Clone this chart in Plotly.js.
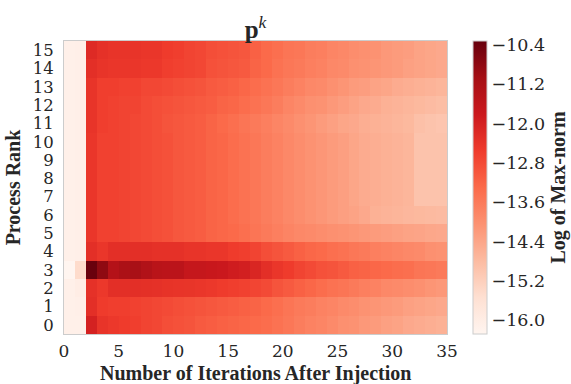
<!DOCTYPE html>
<html>
<head>
<meta charset="utf-8">
<script src="https://cdn.plot.ly/plotly-3.0.1.min.js"></script>
<style>html,body{margin:0;padding:0;background:#fff;}#chart{width:571px;height:384px;}</style>
</head>
<body>
<div id="chart"></div>
<script>
// Iteration bin edges (cells span [i, i+1])
const iterEdges = [0,1,2,3,4,5,6,7,8,9,10,11,12,13,14,15,16,17,18,19,20,21,22,23,24,25,26,27,28,29,30,31,32,33,34,35];
const ranks = [0,1,2,3,4,5,6,7,8,9,10,11,12,13,14,15];

// Log of max-norm per process rank, iterations 0..34
const rank0  = [-16.10,-16.10,-12.00,-12.40,-12.50,-12.55,-12.60,-12.70,-12.75,-12.85,-12.90,-12.95,-13.05,-13.10,-13.15,-13.20,-13.25,-13.30,-13.35,-13.45,-13.55,-13.65,-13.75,-13.80,-13.90,-14.00,-14.05,-14.15,-14.20,-14.30,-14.35,-14.45,-14.50,-14.55,-14.60];
const rank1  = [-16.10,-16.08,-12.30,-12.55,-12.60,-12.60,-12.65,-12.70,-12.75,-12.80,-12.85,-12.90,-12.95,-13.00,-13.05,-13.10,-13.15,-13.20,-13.30,-13.40,-13.50,-13.60,-13.65,-13.75,-13.80,-13.90,-13.95,-14.05,-14.10,-14.15,-14.20,-14.30,-14.35,-14.40,-14.45];
const rank2  = [-16.10,-16.00,-12.35,-12.50,-12.30,-12.30,-12.30,-12.32,-12.35,-12.38,-12.40,-12.42,-12.45,-12.50,-12.55,-12.60,-12.65,-12.72,-12.80,-12.95,-13.05,-13.15,-13.25,-13.35,-13.45,-13.50,-13.60,-13.70,-13.75,-13.85,-13.90,-13.95,-14.00,-14.10,-14.15];
const rank3  = [-16.28,-15.45,-10.35,-10.80,-11.35,-11.20,-11.15,-11.30,-11.45,-11.50,-11.50,-11.70,-11.70,-11.75,-11.80,-11.90,-11.95,-12.10,-12.30,-12.45,-12.55,-12.70,-12.80,-12.90,-12.95,-13.05,-13.15,-13.20,-13.25,-13.30,-13.35,-13.40,-13.50,-13.55,-13.60];
const rank4  = [-16.10,-16.08,-12.30,-12.45,-12.30,-12.30,-12.30,-12.30,-12.35,-12.35,-12.35,-12.40,-12.40,-12.45,-12.45,-12.55,-12.60,-12.70,-12.85,-12.95,-13.05,-13.15,-13.25,-13.30,-13.40,-13.45,-13.55,-13.60,-13.70,-13.75,-13.80,-13.85,-13.90,-14.00,-14.05];
const rank5  = [-16.10,-16.08,-12.45,-12.65,-12.65,-12.70,-12.75,-12.80,-12.85,-12.90,-13.00,-13.05,-13.10,-13.20,-13.25,-13.30,-13.40,-13.50,-13.60,-13.70,-13.78,-13.85,-13.90,-13.95,-14.00,-14.05,-14.10,-14.15,-14.20,-14.25,-14.30,-14.35,-14.38,-14.42,-14.45];
const rank6  = [-16.10,-16.08,-12.45,-12.65,-12.65,-12.70,-12.75,-12.80,-12.85,-12.90,-13.00,-13.05,-13.10,-13.20,-13.25,-13.35,-13.45,-13.55,-13.65,-13.75,-13.85,-13.95,-14.05,-14.12,-14.20,-14.28,-14.35,-14.45,-14.60,-14.65,-14.68,-14.72,-14.75,-14.78,-14.80];
const rank7  = [-16.10,-16.08,-12.45,-12.65,-12.65,-12.70,-12.75,-12.80,-12.85,-12.90,-13.00,-13.05,-13.10,-13.20,-13.25,-13.35,-13.45,-13.55,-13.65,-13.75,-13.85,-13.95,-14.05,-14.12,-14.20,-14.28,-14.40,-14.50,-14.55,-14.60,-14.65,-14.70,-14.95,-14.95,-14.95];
const rank8  = [-16.10,-16.08,-12.45,-12.65,-12.65,-12.70,-12.75,-12.80,-12.85,-12.90,-13.00,-13.05,-13.10,-13.20,-13.25,-13.35,-13.45,-13.55,-13.65,-13.75,-13.85,-13.95,-14.05,-14.12,-14.20,-14.28,-14.40,-14.50,-14.55,-14.60,-14.65,-14.70,-14.95,-14.95,-14.95];
const rank9  = [-16.10,-16.08,-12.45,-12.65,-12.65,-12.70,-12.75,-12.80,-12.85,-12.90,-13.00,-13.05,-13.10,-13.20,-13.25,-13.35,-13.45,-13.55,-13.65,-13.75,-13.85,-13.95,-14.05,-14.12,-14.20,-14.28,-14.40,-14.50,-14.55,-14.60,-14.65,-14.70,-14.95,-14.95,-14.95];
const rank10 = [-16.10,-16.08,-12.45,-12.65,-12.65,-12.70,-12.75,-12.80,-12.85,-12.90,-13.00,-13.05,-13.10,-13.20,-13.25,-13.35,-13.45,-13.55,-13.65,-13.75,-13.85,-13.95,-14.05,-14.12,-14.20,-14.28,-14.40,-14.50,-14.55,-14.60,-14.65,-14.70,-14.95,-14.95,-14.95];
const rank11 = [-16.10,-16.08,-12.40,-12.60,-12.65,-12.70,-12.75,-12.80,-12.85,-12.95,-13.00,-13.05,-13.10,-13.20,-13.30,-13.40,-13.50,-13.60,-13.70,-13.80,-13.90,-14.00,-14.10,-14.20,-14.30,-14.40,-14.45,-14.55,-14.60,-14.65,-14.70,-14.75,-14.90,-14.95,-15.00];
const rank12 = [-16.10,-16.08,-12.40,-12.60,-12.65,-12.70,-12.70,-12.80,-12.85,-12.90,-12.95,-13.00,-13.05,-13.10,-13.20,-13.25,-13.35,-13.45,-13.55,-13.65,-13.80,-13.90,-14.00,-14.05,-14.15,-14.25,-14.35,-14.45,-14.50,-14.60,-14.65,-14.70,-14.75,-14.80,-14.85];
const rank13 = [-16.10,-16.08,-12.40,-12.60,-12.60,-12.65,-12.65,-12.75,-12.75,-12.80,-12.85,-12.90,-12.95,-13.05,-13.10,-13.15,-13.25,-13.35,-13.45,-13.55,-13.65,-13.75,-13.85,-13.90,-14.00,-14.10,-14.20,-14.25,-14.35,-14.40,-14.50,-14.55,-14.60,-14.65,-14.70];
const rank14 = [-16.10,-16.08,-12.30,-12.40,-12.45,-12.45,-12.45,-12.50,-12.50,-12.60,-12.65,-12.70,-12.75,-12.90,-12.95,-13.00,-13.05,-13.20,-13.30,-13.45,-13.55,-13.60,-13.70,-13.75,-13.85,-13.90,-14.00,-14.05,-14.10,-14.15,-14.20,-14.30,-14.35,-14.40,-14.45];
const rank15 = [-16.10,-16.08,-12.20,-12.35,-12.40,-12.40,-12.40,-12.45,-12.45,-12.55,-12.60,-12.70,-12.75,-12.85,-12.90,-12.95,-13.00,-13.15,-13.30,-13.40,-13.50,-13.55,-13.65,-13.70,-13.80,-13.85,-13.95,-14.00,-14.05,-14.15,-14.20,-14.25,-14.35,-14.40,-14.45];

const cbarTicks = [-16.0,-15.2,-14.4,-13.6,-12.8,-12.0,-11.2,-10.4];
const xTicks = [0,5,10,15,20,25,30,35];

const z = [rank0,rank1,rank2,rank3,rank4,rank5,rank6,rank7,rank8,rank9,rank10,rank11,rank12,rank13,rank14,rank15];

// matplotlib "Reds"
const reds = [
  [0.0,'#fff5f0'],[0.125,'#fee0d2'],[0.25,'#fcbba1'],[0.375,'#fc9272'],
  [0.5,'#fb6a4a'],[0.625,'#ef3b2c'],[0.75,'#cb181d'],[0.875,'#a50f15'],[1.0,'#67000d']
];

const tickFont = {family:'DejaVu Serif, serif', size:17.5, color:'#262626'};
const xTickFont = {family:'DejaVu Serif, serif', size:17, color:'#262626'};
const yTickFont = {family:'DejaVu Serif, serif', size:16.5, color:'#262626'};
const titleFont = {family:'Liberation Serif, Times New Roman, serif', size:20, color:'#262626', weight:'bold'};

const trace = {
  type:'heatmap',
  x: iterEdges,
  y: ranks,
  z: z,
  colorscale: reds,
  zmin: -16.28,
  zmax: -10.32,
  xgap:0, ygap:0,
  colorbar:{
    x:1.068, xanchor:'left', xref:'paper',
    y:0.5, yanchor:'middle',
    len:1.0, lenmode:'fraction',
    thickness:14, ypad:0, xpad:0,
    outlinewidth:1, outlinecolor:'#cccccc',
    tickvals: cbarTicks,
    ticktext: cbarTicks.map(v => '\u2212' + Math.abs(v).toFixed(1)),
    ticks:'', ticklabelstandoff:5,
    tickfont: tickFont,
    title:{text:'<b>Log of Max-norm</b>', side:'right', font:titleFont}
  },
  hoverinfo:'skip'
};

const layout = {
  width:571, height:384,
  margin:{l:64, r:124, t:41, b:50, pad:0, autoexpand:false},
  paper_bgcolor:'#ffffff', plot_bgcolor:'#ffffff',
  title:{text:'<b>p</b><sup><i>k</i></sup>', font:{family:'Liberation Serif, Times New Roman, serif', size:25, color:'#262626'}, x:0.5, xref:'paper', xanchor:'center', y:1, yref:'paper', yanchor:'bottom', pad:{b:3}},
  xaxis:{
    range:[0,35], tickvals:xTicks, ticktext:xTicks.map(String),
    showgrid:false, zeroline:false, ticks:'', ticklabelstandoff:2,
    showline:true, mirror:true, linecolor:'#cccccc', linewidth:1,
    tickfont:xTickFont, automargin:false
  },
  yaxis:{
    range:[-0.5,15.5], tickvals:ranks, ticktext:ranks.map(String),
    showgrid:false, zeroline:false, ticks:'', ticklabelstandoff:6,
    showline:true, mirror:true, linecolor:'#cccccc', linewidth:1,
    tickfont:yTickFont, automargin:false,
    title:{text:'<b>Process Rank</b>', font:titleFont, standoff:6}
  },
  annotations:[{
    text:'<b>Number of Iterations After Injection</b>',
    xref:'paper', yref:'paper', x:0.5, y:-50/293, xanchor:'center', yanchor:'bottom',
    yshift:-3, showarrow:false, font:titleFont
  }]
};

Plotly.newPlot('chart',[trace],layout,{staticPlot:true, displayModeBar:false});
</script>
</body>
</html>
